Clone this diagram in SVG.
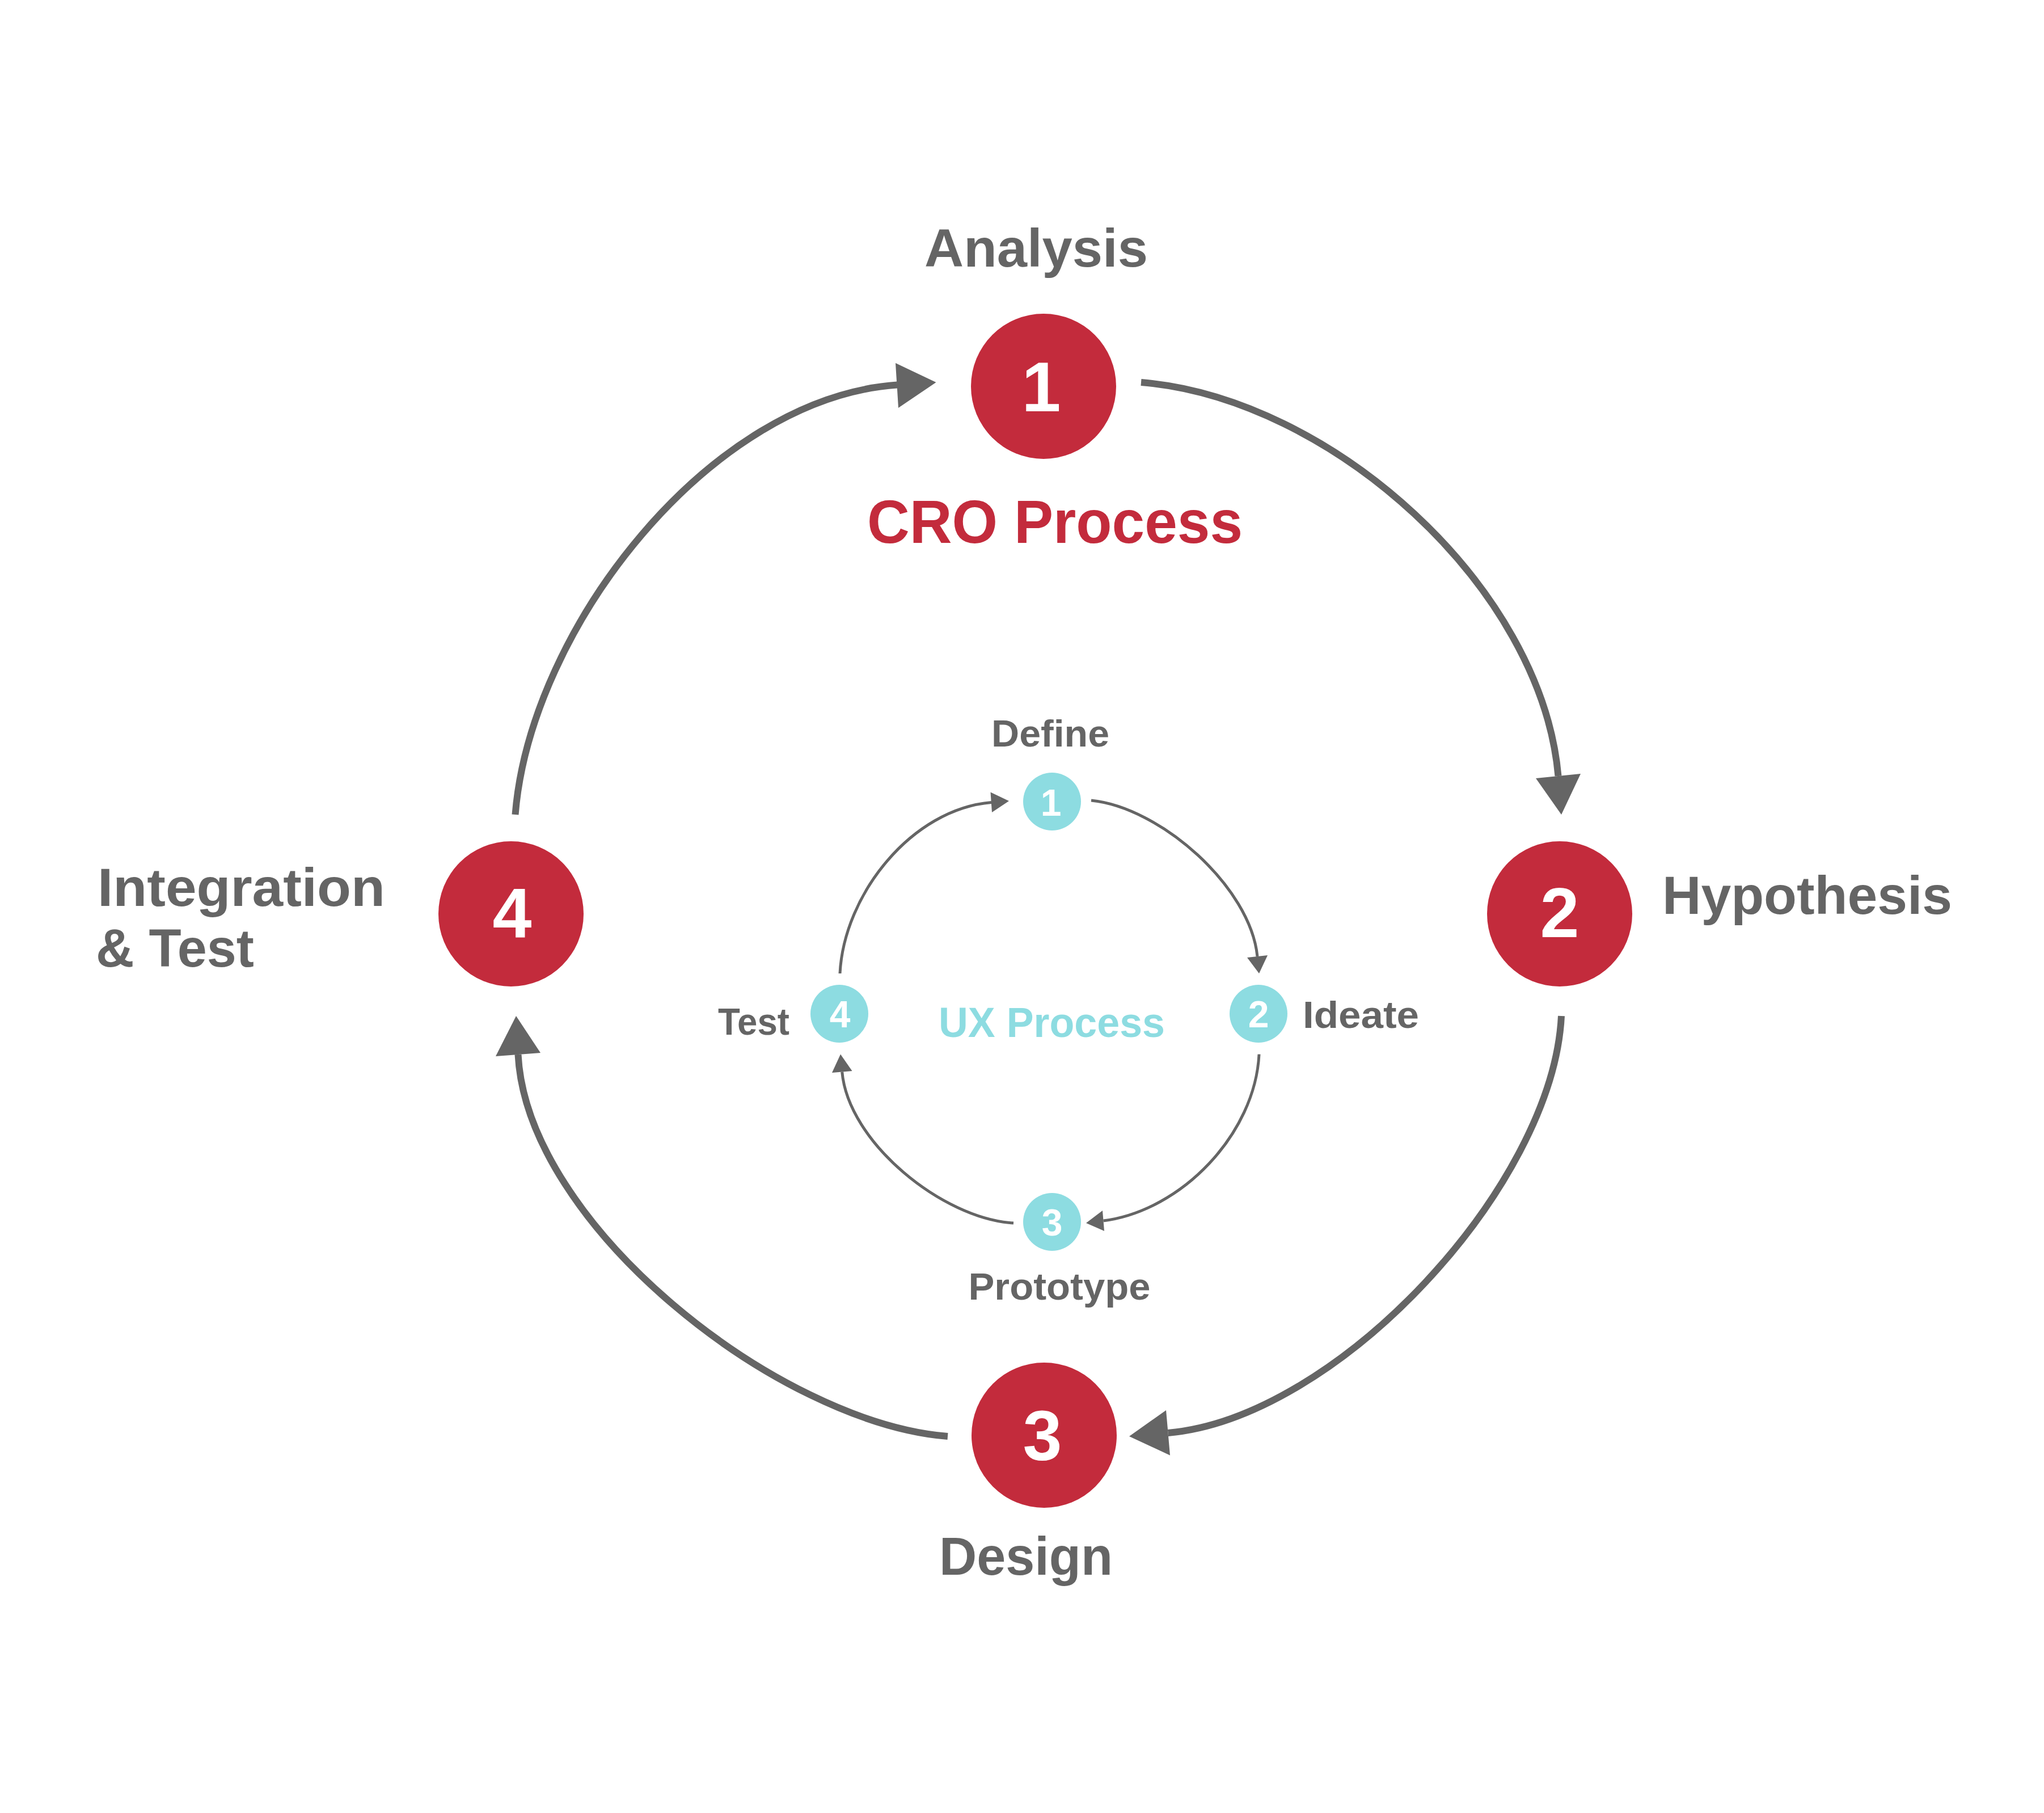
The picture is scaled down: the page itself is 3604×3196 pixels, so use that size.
<svg xmlns="http://www.w3.org/2000/svg" width="3604" height="3196" viewBox="0 0 3604 3196">
  <style>
    .big { fill: #C32B3C; }
    .small { fill: #8DDCE1; }
    .num { font-family: "Liberation Sans", Arial, sans-serif; font-weight: bold; fill: #FFFFFF; text-anchor: middle; }
    .bignum { font-size: 124px; }
    .smallnum { font-size: 66px; }
    .lbl { font-family: "Liberation Sans", Arial, sans-serif; font-weight: bold; fill: #656565; }
    .lblbig { font-size: 95px; }
    .lblsmall { font-size: 67px; }
    .title-cro { font-family: "Liberation Sans", Arial, sans-serif; font-weight: bold; font-size: 108px; fill: #C32B3C; text-anchor: middle; }
    .title-ux { font-family: "Liberation Sans", Arial, sans-serif; font-weight: bold; font-size: 74px; fill: #8DDCE1; text-anchor: middle; }
    .conn-big { fill: none; stroke: #656565; stroke-width: 12; }
    .conn-small { fill: none; stroke: #656565; stroke-width: 5; }
    .ah { fill: #656565; }
  </style>
  <rect x="0" y="0" width="3604" height="3196" fill="#FFFFFF"/>

  <g id="connectors">
    <!-- CRO cycle -->
    <path class="conn-big" d="M2012,674 C2346,701 2718,1034 2747.5,1368"/>
    <polygon class="ah" points="2753,1436 2708,1372 2787,1364"/>
    <path class="conn-big" d="M2753,1791 C2738,2091 2358,2500 2059.5,2526"/>
    <polygon class="ah" points="1991,2532 2056,2486 2063,2565.5"/>
    <path class="conn-big" d="M1671,2532 C1372,2508 929,2159 913.5,1859"/>
    <polygon class="ah" points="910,1791 874,1862 953,1856"/>
    <path class="conn-big" d="M908.5,1436 C935,1107 1253,701 1582,678.6"/>
    <polygon class="ah" points="1650.5,674 1579,640 1584,719"/>
    <!-- UX cycle -->
    <path class="conn-small" d="M1924,1411 C2046.4,1423.3 2204.7,1563.6 2217,1686"/>
    <polygon class="ah" points="2220,1716 2199,1688 2235,1684"/>
    <path class="conn-small" d="M2220,1858.5 C2213,1998.5 2084,2134 1945.5,2152"/>
    <polygon class="ah" points="1915,2156 1944,2134 1947,2170"/>
    <path class="conn-small" d="M1787,2156 C1662,2148.5 1495.75,2014 1484.75,1889.5"/>
    <polygon class="ah" points="1482,1858.5 1467,1891 1502.5,1888"/>
    <path class="conn-small" d="M1481,1716 C1488,1576 1608.4,1426 1748,1414.5"/>
    <polygon class="ah" points="1779,1412 1746.5,1396.5 1749,1432"/>
  </g>

  <g id="cro-title">
    <text class="title-cro" x="1860" y="957" textLength="662" lengthAdjust="spacingAndGlyphs">CRO Process</text>
  </g>
  <g id="ux-title">
    <text class="title-ux" x="1854.5" y="1828" textLength="399" lengthAdjust="spacingAndGlyphs">UX Process</text>
  </g>

  <g id="cro-1-analysis">
    <circle class="big" cx="1840" cy="681" r="128"/>
    <text class="num bignum" x="1836" y="725">1</text>
    <text class="lbl lblbig" x="1827" y="470" text-anchor="middle" textLength="394" lengthAdjust="spacingAndGlyphs">Analysis</text>
  </g>
  <g id="cro-2-hypothesis">
    <circle class="big" cx="2750" cy="1611" r="128"/>
    <text class="num bignum" x="2750" y="1652">2</text>
    <text class="lbl lblbig" x="2931" y="1611" textLength="511" lengthAdjust="spacingAndGlyphs">Hypothesis</text>
  </g>
  <g id="cro-3-design">
    <circle class="big" cx="1841" cy="2530" r="128"/>
    <text class="num bignum" x="1838" y="2574">3</text>
    <text class="lbl lblbig" x="1809" y="2776" text-anchor="middle" textLength="306" lengthAdjust="spacingAndGlyphs">Design</text>
  </g>
  <g id="cro-4-integration">
    <circle class="big" cx="901" cy="1611" r="128"/>
    <text class="num bignum" x="903" y="1652">4</text>
    <text class="lbl lblbig" x="172" y="1597" textLength="507" lengthAdjust="spacingAndGlyphs">Integration</text>
    <text class="lbl lblbig" x="169" y="1704" textLength="279" lengthAdjust="spacingAndGlyphs">&amp; Test</text>
  </g>

  <g id="ux-1-define">
    <circle class="small" cx="1855" cy="1413" r="51"/>
    <text class="num smallnum" x="1853" y="1438">1</text>
    <text class="lbl lblsmall" x="1852" y="1316" text-anchor="middle" textLength="208" lengthAdjust="spacingAndGlyphs">Define</text>
  </g>
  <g id="ux-2-ideate">
    <circle class="small" cx="2219" cy="1787" r="51"/>
    <text class="num smallnum" x="2219" y="1811">2</text>
    <text class="lbl lblsmall" x="2297" y="1812" textLength="205" lengthAdjust="spacingAndGlyphs">Ideate</text>
  </g>
  <g id="ux-3-prototype">
    <circle class="small" cx="1855" cy="2154" r="51"/>
    <text class="num smallnum" x="1855" y="2178">3</text>
    <text class="lbl lblsmall" x="1868" y="2291" text-anchor="middle" textLength="321" lengthAdjust="spacingAndGlyphs">Prototype</text>
  </g>
  <g id="ux-4-test">
    <circle class="small" cx="1480" cy="1787" r="51"/>
    <text class="num smallnum" x="1481" y="1811">4</text>
    <text class="lbl lblsmall" x="1266" y="1824" textLength="126" lengthAdjust="spacingAndGlyphs">Test</text>
  </g>
</svg>
